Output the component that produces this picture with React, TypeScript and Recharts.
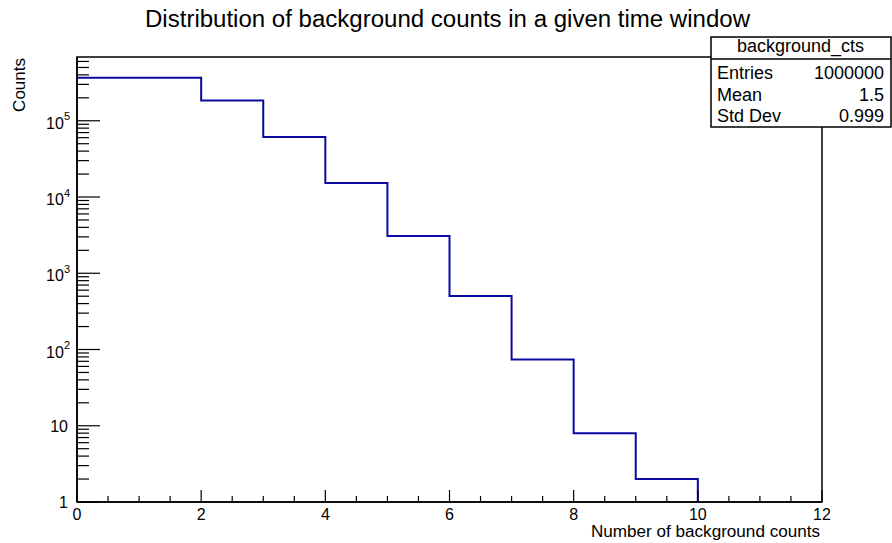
import React from "react";
import { LineChart, Line, XAxis, YAxis, ReferenceArea } from "recharts";

const FONT = "'Liberation Sans', Arial, Helvetica, sans-serif";

const title = "Distribution of background counts in a given time window";
const xAxisTitle = "Number of background counts";
const yAxisTitle = "Counts";

const binLowEdges = [0, 1, 2, 3, 4, 5, 6, 7, 8, 9];
const binCounts = [367900, 367800, 183900, 61300, 15300, 3070, 505, 74, 8, 2];
const lastBinHighEdge = 10;

const xDomain = [0, 12];
const xTicks = [0, 0.5, 1, 1.5, 2, 2.5, 3, 3.5, 4, 4.5, 5, 5.5, 6, 6.5, 7, 7.5, 8, 8.5, 9, 9.5, 10, 10.5, 11, 11.5, 12];
const xLabelTicks = [0, 2, 4, 6, 8, 10, 12];

const yDomain = [1, 686000];
const yTicks = [
  1, 2, 3, 4, 5, 6, 7, 8, 9,
  10, 20, 30, 40, 50, 60, 70, 80, 90,
  100, 200, 300, 400, 500, 600, 700, 800, 900,
  1000, 2000, 3000, 4000, 5000, 6000, 7000, 8000, 9000,
  10000, 20000, 30000, 40000, 50000, 60000, 70000, 80000, 90000,
  100000, 200000, 300000, 400000, 500000, 600000,
];
const yMajorTicks = [1, 10, 100, 1000, 10000, 100000];

const statsName = "background_cts";
const statsLabels = ["Entries", "Mean", "Std Dev"];
const statsValues = ["1000000", "1.5", "0.999"];

// Build stepped histogram outline from the bins
const lineData: { x: number; y: number }[] = binLowEdges.map((x, i) => ({ x, y: binCounts[i] }));
lineData.push({ x: lastBinHighEdge, y: binCounts[binCounts.length - 1] });
lineData.push({ x: lastBinHighEdge, y: yDomain[0] });

const XTick = (props: any) => {
  const { x, y, payload } = props;
  const v = payload.value as number;
  const major = xLabelTicks.includes(v);
  const len = major ? 12 : 6;
  return (
    <g>
      <line x1={x} y1={y} x2={x} y2={y - len} stroke="#000" strokeWidth={1.2} />
      {major && (
        <text x={x} y={y + 18} textAnchor="middle" fontFamily={FONT} fontSize={16} fill="#000">
          {String(v)}
        </text>
      )}
    </g>
  );
};

const YTick = (props: any) => {
  const { x, y, payload } = props;
  const v = payload.value as number;
  const major = yMajorTicks.includes(v);
  const len = major ? 23 : 12;
  let label: React.ReactNode = null;
  if (major) {
    const exp = Math.round(Math.log10(v));
    if (exp <= 1) {
      label = (
        <text x={x - 9} y={y + 6} textAnchor="end" fontFamily={FONT} fontSize={16} fill="#000">
          {String(v)}
        </text>
      );
    } else {
      label = (
        <text x={x - 7} y={y + 8} textAnchor="end" fontFamily={FONT} fontSize={16} fill="#000">
          10
          <tspan dy={-8.5} fontSize={11}>
            {String(exp)}
          </tspan>
        </text>
      );
    }
  }
  return (
    <g>
      <line x1={x} y1={y} x2={x + len} y2={y} stroke="#000" strokeWidth={1.2} />
      {label}
    </g>
  );
};

const XLabel = (props: any) => {
  const vb = props.viewBox || { x: 77, y: 502, width: 745, height: 41 };
  return (
    <text
      x={vb.x + vb.width - 2}
      y={vb.y + 35}
      textAnchor="end"
      fontFamily={FONT}
      fontSize={16}
      fill="#000"
      textLength={229}
      lengthAdjust="spacingAndGlyphs"
    >
      {xAxisTitle}
    </text>
  );
};

const YLabel = (props: any) => {
  const vb = props.viewBox || { x: 0, y: 57, width: 77, height: 445 };
  const tx = vb.x + 25;
  const ty = vb.y + 1;
  return (
    <text
      x={tx}
      y={ty}
      transform={`rotate(-90 ${tx} ${ty})`}
      textAnchor="end"
      fontFamily={FONT}
      fontSize={17}
      fill="#000"
    >
      {yAxisTitle}
    </text>
  );
};

export default function App() {
  return (
    <div style={{ position: "absolute", left: 0, top: 0, width: 892, height: 543, background: "#fff" }}>
      <LineChart width={892} height={543} data={lineData} margin={{ top: 57, right: 70, bottom: 0, left: 0 }}>
        <XAxis
          dataKey="x"
          type="number"
          domain={xDomain}
          ticks={xTicks}
          interval={0}
          tickSize={0}
          tickMargin={0}
          tickLine={false}
          tick={<XTick />}
          axisLine={{ stroke: "#000", strokeWidth: 1.5 }}
          height={41}
          allowDataOverflow
          label={<XLabel />}
        />
        <YAxis
          dataKey="y"
          type="number"
          scale="log"
          domain={yDomain}
          ticks={yTicks}
          interval={0}
          tickSize={0}
          tickMargin={0}
          tickLine={false}
          tick={<YTick />}
          axisLine={{ stroke: "#000", strokeWidth: 1.5 }}
          width={77}
          allowDataOverflow
          label={<YLabel />}
        />
        <ReferenceArea
          x1={xDomain[0]}
          x2={xDomain[1]}
          y1={yDomain[0]}
          y2={yDomain[1]}
          fill="none"
          stroke="#000"
          strokeWidth={1.5}
          ifOverflow="extendDomain"
        />
        <Line
          dataKey="y"
          type="stepAfter"
          stroke="#0a0aa0"
          strokeWidth={2}
          dot={false}
          activeDot={false}
          isAnimationActive={false}
        />
      </LineChart>
      <svg width={892} height={543} style={{ position: "absolute", left: 0, top: 0, pointerEvents: "none" }}>
        <text
          x={447.5}
          y={26.5}
          textAnchor="middle"
          fontFamily={FONT}
          fontSize={23}
          fill="#000"
          textLength={605}
          lengthAdjust="spacingAndGlyphs"
        >
          {title}
        </text>
        <rect x={711} y={37} width={180} height={90} fill="#fff" stroke="#000" strokeWidth={1.5} />
        <line x1={711} y1={59} x2={891} y2={59} stroke="#000" strokeWidth={1.5} />
        <text x={800.5} y={52} textAnchor="middle" fontFamily={FONT} fontSize={18} fill="#000">
          {statsName}
        </text>
        {statsLabels.map((lab, i) => (
          <g key={lab}>
            <text x={717} y={79 + i * 21.5} fontFamily={FONT} fontSize={18} fill="#000">
              {lab}
            </text>
            <text x={884} y={79 + i * 21.5} textAnchor="end" fontFamily={FONT} fontSize={18} fill="#000">
              {statsValues[i]}
            </text>
          </g>
        ))}
      </svg>
    </div>
  );
}
